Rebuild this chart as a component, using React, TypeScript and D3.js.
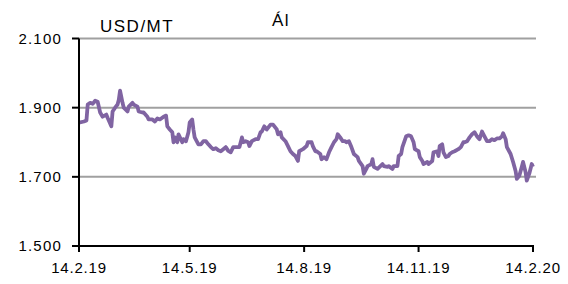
import React from "react";
import * as d3 from "d3";

// Days after 14.2.2019 and aluminium price (USD/MT)
const dayOffsets = [0,4,6,7,9,11,13,15,17,19,22,23,26,27,29,31,32,33,35,36,39,40,43,44,47,48,51,52,55,56,59,61,63,65,68,70,71,73,75,76,77,79,80,83,84,86,88,89,91,92,93,96,98,100,102,104,106,108,110,112,114,116,118,120,122,124,127,129,131,132,134,136,137,139,142,144,146,147,149,151,154,156,159,160,162,163,166,168,170,172,174,176,177,180,183,184,187,188,190,191,194,195,197,199,201,203,205,207,208,210,212,214,215,217,219,221,224,225,228,229,231,232,235,236,237,240,244,245,248,249,252,253,256,257,259,260,263,265,267,269,270,273,274,276,277,280,281,284,285,288,289,290,292,293,295,297,298,300,302,305,307,309,310,312,314,316,318,320,322,324,326,328,330,332,334,336,338,340,341,343,344,347,349,351,352,354,356,357,359,360,362,364,365];
const priceValues = [1857,1860,1863,1909,1914,1911,1920,1917,1886,1874,1880,1871,1846,1889,1900,1909,1923,1949,1914,1900,1889,1903,1914,1909,1903,1889,1886,1886,1874,1866,1866,1860,1869,1866,1874,1877,1846,1837,1829,1800,1814,1800,1823,1800,1809,1803,1829,1857,1866,1837,1814,1794,1794,1803,1803,1794,1786,1780,1783,1777,1774,1780,1786,1775,1771,1786,1786,1786,1814,1800,1803,1800,1789,1803,1809,1809,1829,1831,1846,1837,1851,1851,1837,1823,1829,1814,1803,1789,1774,1766,1760,1746,1774,1780,1789,1800,1800,1789,1774,1774,1766,1751,1757,1751,1771,1786,1800,1809,1823,1814,1803,1803,1800,1803,1786,1766,1757,1746,1731,1709,1723,1731,1737,1751,1729,1723,1737,1731,1729,1731,1723,1731,1731,1760,1766,1786,1817,1820,1817,1800,1780,1774,1757,1746,1737,1743,1737,1746,1771,1774,1760,1789,1794,1771,1757,1760,1766,1771,1774,1780,1786,1800,1800,1803,1814,1823,1829,1817,1809,1831,1817,1803,1803,1809,1806,1811,1811,1817,1826,1809,1786,1766,1743,1717,1694,1703,1729,1743,1714,1689,1709,1737,1729];

const xTickLabels = ["14.2.19", "14.5.19", "14.8.19", "14.11.19", "14.2.20"];
const yTicks = [1500, 1700, 1900, 2100];
const yTickLabels = ["1.500", "1.700", "1.900", "2.100"];
const unitLabel = "USD/MT";
const titleLabel = "Ál";

const parseTick = d3.timeParse("%d.%m.%y");

export default function App() {
  const W = 568, H = 284;
  const left = 79, right = 533, top = 38.5, bottom = 246;
  const start = new Date(2019, 1, 14);
  const end = new Date(2020, 1, 14);
  const x = d3.scaleTime().domain([start, end]).range([left, right]);
  const y = d3.scaleLinear().domain([1500, 2100]).range([bottom, top]);
  const data = dayOffsets.map((d, i) => ({ date: d3.timeDay.offset(start, d), v: priceValues[i] }));
  const line = d3.line<any>().x(d => x(d.date)).y(d => y(d.v)).curve(d3.curveLinear);
  const font = "'Liberation Sans', Arial, sans-serif";
  const tickDates = xTickLabels.map(t => parseTick(t) as Date);

  return (
    <svg width={W} height={H} style={{ position: "absolute", left: 0, top: 0, background: "#fff" }} fontFamily={font}>
      {yTicks.filter(t => t > 1500).map(t => (
        <line key={t} x1={left} x2={right + 3} y1={y(t)} y2={y(t)} stroke="#a0a0a0" strokeWidth={2} />
      ))}
      <path d={line(data) || ""} fill="none" stroke="#8064a2" strokeWidth={3.8} strokeLinejoin="round" />
      <line x1={left} x2={left} y1={top} y2={bottom} stroke="#000" strokeWidth={2} />
      <line x1={left - 1} x2={right + 1} y1={bottom} y2={bottom} stroke="#000" strokeWidth={2} />
      {yTicks.map((t, i) => (
        <g key={t}>
          <line x1={left - 7} x2={left} y1={y(t)} y2={y(t)} stroke="#000" strokeWidth={2} />
          <text x={left - 17} y={y(t)} dy="0.35em" textAnchor="end" fontSize={15} letterSpacing={1.2} fill="#000">{yTickLabels[i]}</text>
        </g>
      ))}
      {tickDates.map((d, i) => (
        <g key={i}>
          <line x1={x(d)} x2={x(d)} y1={bottom} y2={bottom + 6} stroke="#000" strokeWidth={2} />
          <text x={x(d)} y={bottom + 27} textAnchor="middle" fontSize={15} letterSpacing={0.8} fill="#000">{xTickLabels[i]}</text>
        </g>
      ))}
      <text x={100} y={32} fontSize={17} letterSpacing={1.5} fill="#000">{unitLabel}</text>
      <text x={281} y={26} textAnchor="middle" fontSize={17} letterSpacing={1.5} fill="#000">{titleLabel}</text>
    </svg>
  );
}
